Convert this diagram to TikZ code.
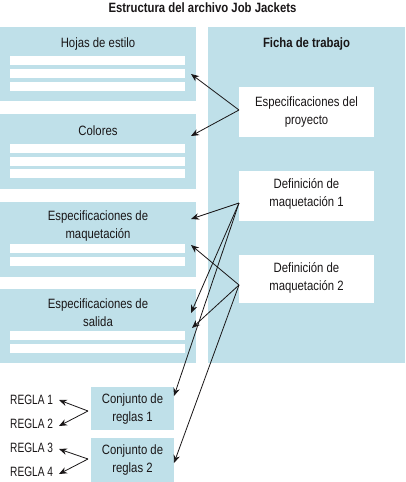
\documentclass[tikz,border=0pt]{standalone}
\usepackage{fontspec}
\setmainfont[FakeStretch=0.84]{Liberation Sans}
\newfontfamily\narrowfont[FakeStretch=0.75]{Liberation Sans}
\usetikzlibrary{arrows.meta}
\definecolor{jjblue}{RGB}{191,224,233}
\definecolor{ink}{RGB}{25,22,23}
\tikzset{
  panel/.style={fill=jjblue, draw=none, inner sep=0pt, outer sep=0pt, anchor=north west},
  card/.style={fill=white, draw=none, inner sep=0pt, outer sep=0pt, anchor=north west},
  bar/.style={fill=white, draw=none, inner sep=0pt, outer sep=0pt, anchor=north west, minimum width=175pt, minimum height=9pt},
  txt/.style={font=\fontsize{13.5}{18}\selectfont, text=ink, align=center, inner sep=0pt},
  btxt/.style={font=\fontsize{13.5}{18}\selectfont\bfseries, text=ink, align=center, inner sep=0pt},
  ruletxt/.style={font=\narrowfont\fontsize{13.5}{18}\selectfont, text=ink, inner sep=0pt, anchor=west},
  conn/.style={draw=ink, line width=0.8pt, -{Stealth[length=8pt,width=6.5pt]}},
}
\begin{document}
\begin{tikzpicture}[x=1pt,y=-1pt]
\useasboundingbox (0,0) rectangle (405,482);
% title
\node[btxt] (title) at (202.5,8) {Estructura del archivo Job Jackets};
% left panels
\node[panel, minimum width=196pt, minimum height=74pt] (hojas) at (0,27) {};
\node[panel, minimum width=196pt, minimum height=75pt] (colores) at (0,114) {};
\node[panel, minimum width=196pt, minimum height=75pt] (maq) at (0,202) {};
\node[panel, minimum width=196pt, minimum height=74pt] (salida) at (0,289) {};
% right panel
\node[panel, minimum width=197pt, minimum height=336pt] (ficha) at (208,27) {};
% bars
\node[bar] (b1) at (10,56) {};
\node[bar] (b2) at (10,69) {};
\node[bar] (b3) at (10,82) {};
\node[bar] (b4) at (10,144) {};
\node[bar] (b5) at (10,156.5) {};
\node[bar] (b6) at (10,169) {};
\node[bar] (b7) at (10,244) {};
\node[bar] (b8) at (10,257) {};
\node[bar] (b9) at (10,331) {};
\node[bar] (b10) at (10,344) {};
% panel titles
\node[txt] (thojas) at (98,44) {Hojas de estilo};
\node[txt] (tcolores) at (98,131) {Colores};
\node[txt] (tmaq) at (98,226) {Especificaciones de\\maquetación};
\node[txt] (tsalida) at (98,313) {Especificaciones de\\salida};
\node[btxt] (tficha) at (306.5,44) {Ficha de trabajo};
% white cards
\node[card, minimum width=135pt, minimum height=50pt] (proy) at (239,87) {};
\node[card, minimum width=135pt, minimum height=50pt] (def1) at (239,171) {};
\node[card, minimum width=135pt, minimum height=48pt] (def2) at (239,255) {};
\node[txt] (tproy) at (306.5,112) {Especificaciones del\\proyecto};
\node[txt] (tdef1) at (306.5,193.5) {Definición de\\maquetación 1};
\node[txt] (tdef2) at (306.5,278) {Definición de\\maquetación 2};
% rule sets
\node[panel, minimum width=83pt, minimum height=43pt] (conj1) at (91,387) {};
\node[panel, minimum width=83pt, minimum height=44pt] (conj2) at (91,438) {};
\node[txt] (tconj1) at (132.5,409.5) {Conjunto de\\reglas 1};
\node[txt] (tconj2) at (132.5,460) {Conjunto de\\reglas 2};
% rules
\node[ruletxt] (r1) at (10,400) {REGLA 1};
\node[ruletxt] (r2) at (10,424) {REGLA 2};
\node[ruletxt] (r3) at (10,448) {REGLA 3};
\node[ruletxt] (r4) at (10,472) {REGLA 4};
% connector end points
\coordinate (sProy) at (239,110);
\coordinate (sDef1) at (239,203);
\coordinate (sDef2) at (239,285);
\coordinate (sConj1) at (88,411);
\coordinate (sConj2) at (88,459);
\coordinate (eHojas) at (191,74);
\coordinate (eColores) at (191,136);
\coordinate (eMaqA) at (191,219);
\coordinate (eMaqB) at (191,245);
\coordinate (eSalA) at (191,313);
\coordinate (eSalB) at (192,328);
\coordinate (eConj1) at (174,396);
\coordinate (eConj2) at (174,463);
\coordinate (eR1) at (59,400);
\coordinate (eR2) at (59,426);
\coordinate (eR3) at (59,449);
\coordinate (eR4) at (59,474);
% connectors
\draw[conn] (sProy) -- (eHojas);
\draw[conn] (sProy) -- (eColores);
\draw[conn] (sDef1) -- (eMaqA);
\draw[conn] (sDef1) -- (eSalA);
\draw[conn] (sDef1) -- (eConj1);
\draw[conn] (sDef2) -- (eMaqB);
\draw[conn] (sDef2) -- (eSalB);
\draw[conn] (sDef2) -- (eConj2);
\draw[conn] (sConj1) -- (eR1);
\draw[conn] (sConj1) -- (eR2);
\draw[conn] (sConj2) -- (eR3);
\draw[conn] (sConj2) -- (eR4);
\end{tikzpicture}
\end{document}
